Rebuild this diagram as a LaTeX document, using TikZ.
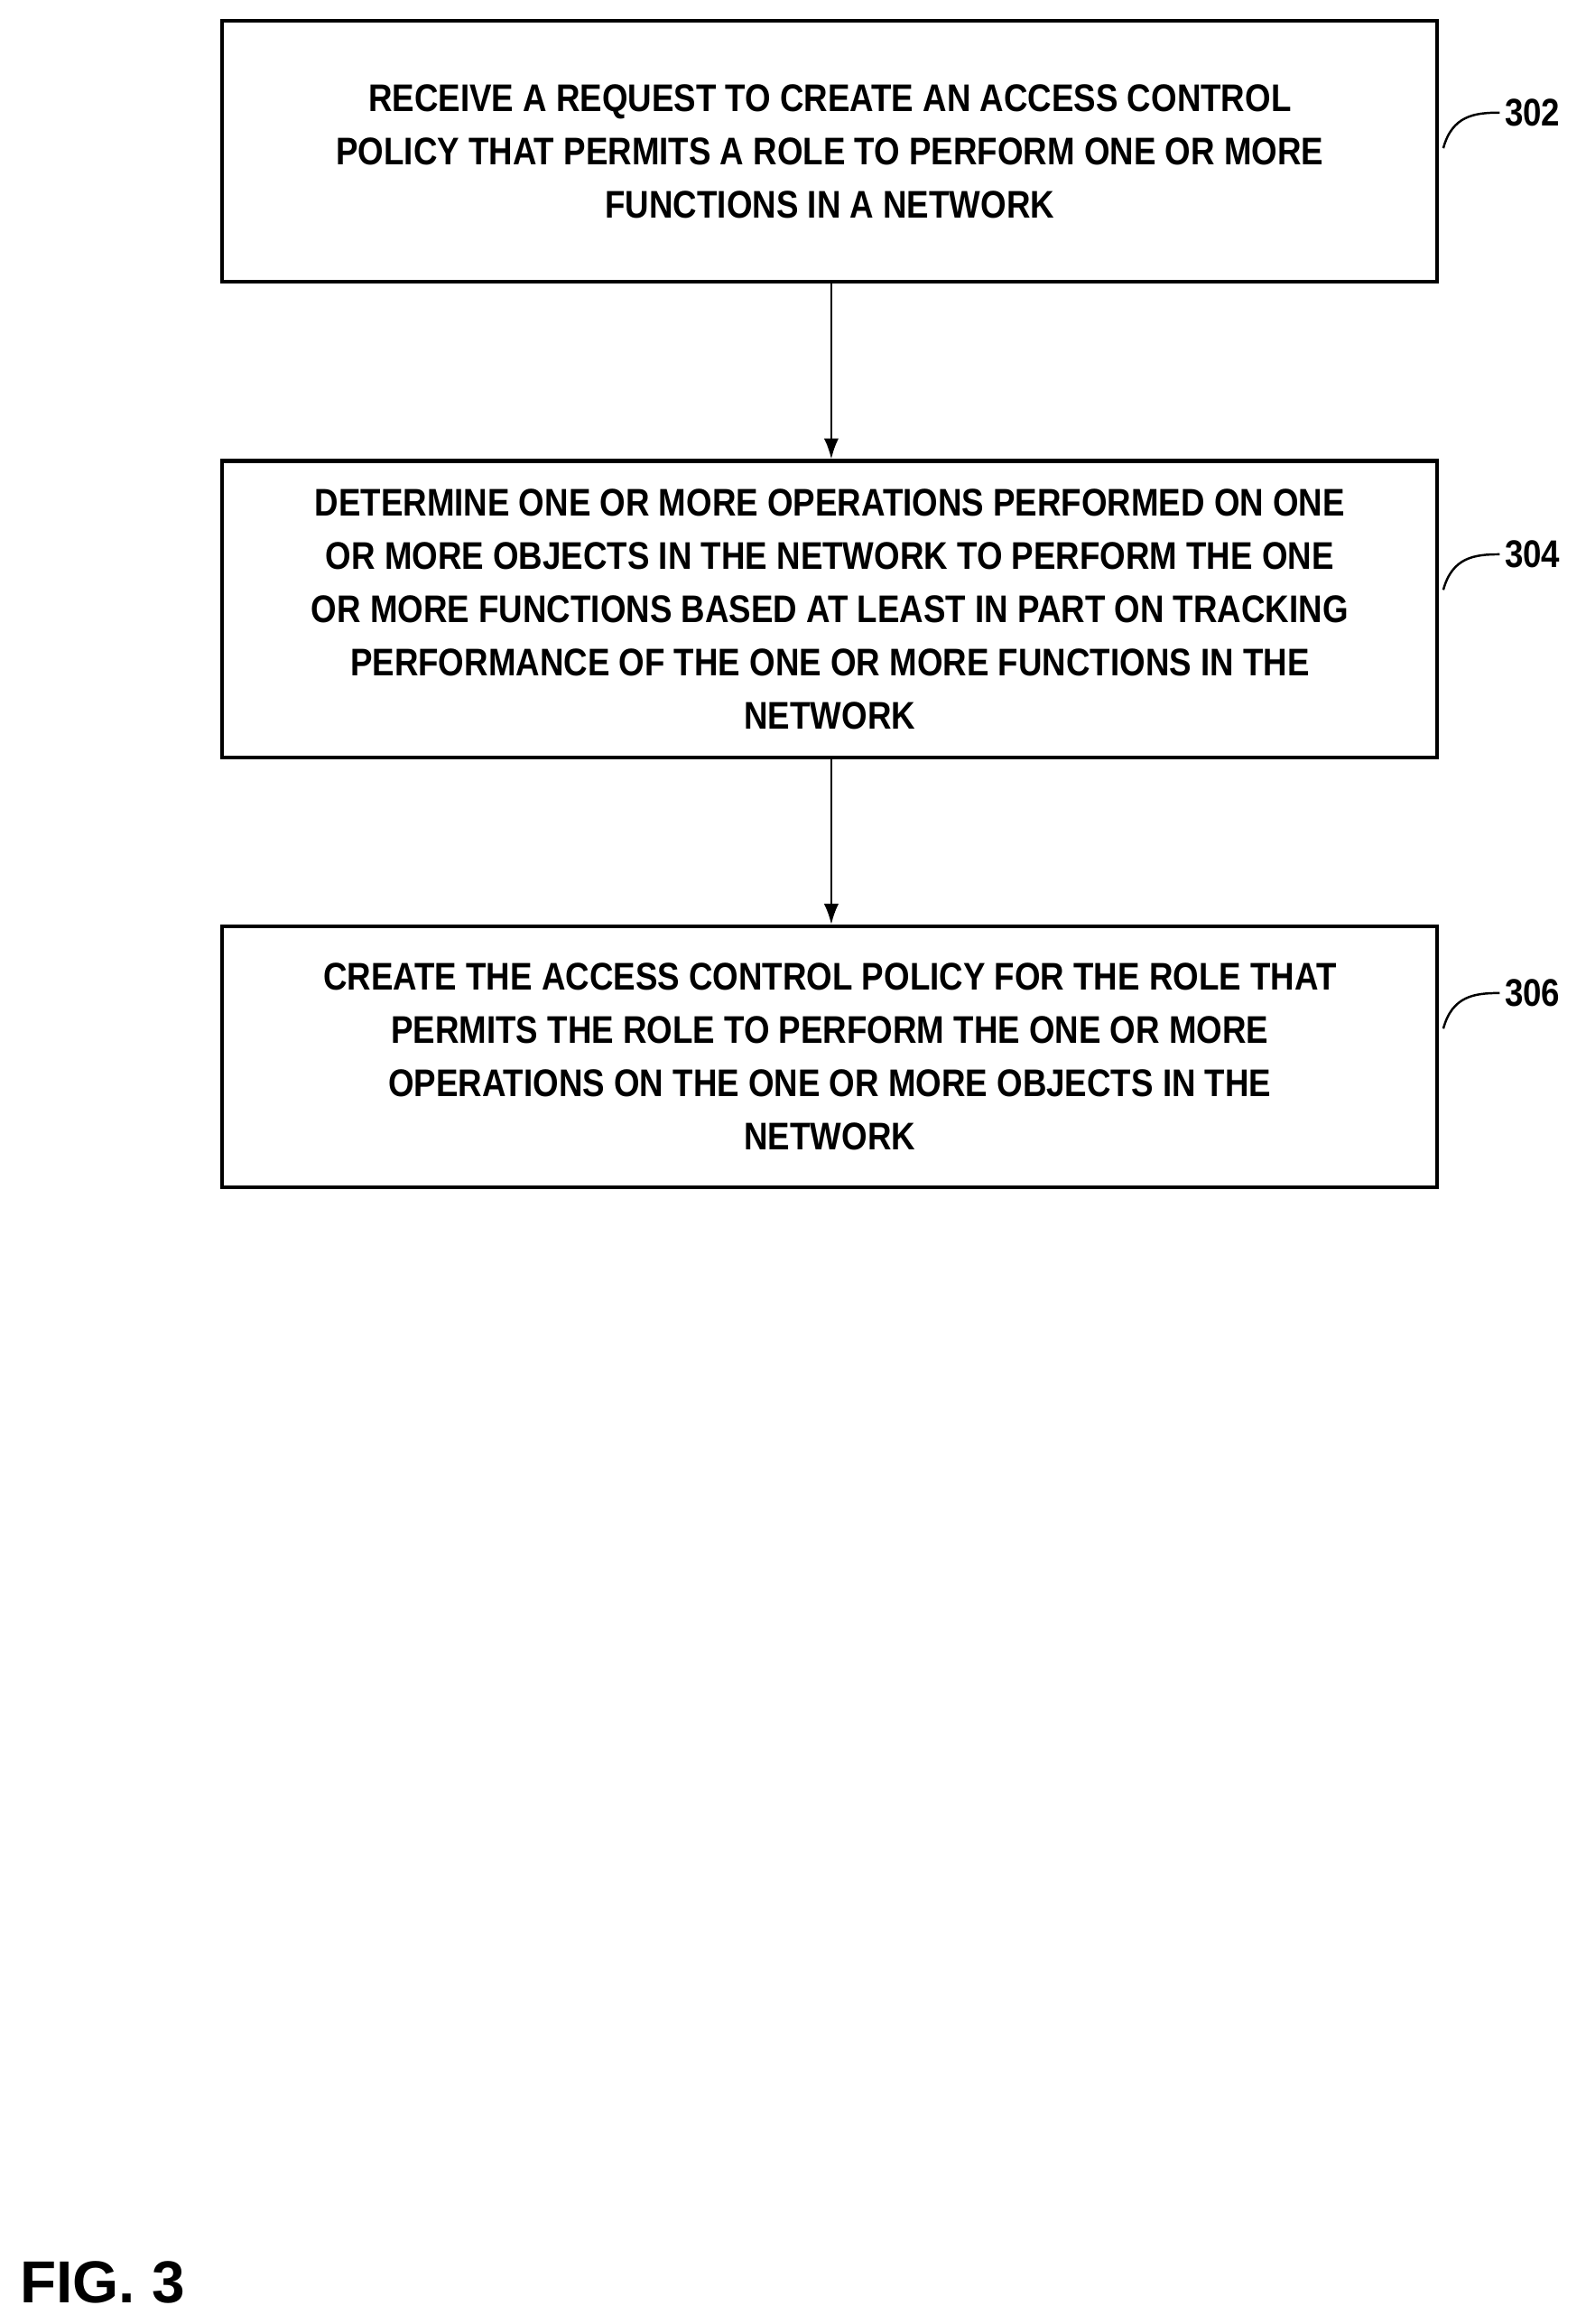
\documentclass[tikz,border=0pt]{standalone}
\usetikzlibrary{arrows.meta}
\usepackage{fontspec}
\setmainfont{Liberation Sans}[FakeStretch=0.86]
\newfontfamily\figfont{Liberation Sans}
\begin{document}
\begin{tikzpicture}[x=1pt,y=-1pt,
  box/.style={draw,line width=2.5pt,minimum width=820pt,align=center,inner sep=0pt,
    font=\fontsize{26}{36}\selectfont\bfseries},
  arr/.style={line width=1.5pt,-{Latex[length=14pt,width=10pt]}},
  lead/.style={line width=1.5pt},
  lab/.style={font=\fontsize{26}{30}\selectfont\bfseries}]
\useasboundingbox (0,0) rectangle (1070,1568);
\node[box,minimum height=176pt] (b1) at (560,102) {RECEIVE A REQUEST TO CREATE AN ACCESS CONTROL\\POLICY THAT PERMITS A ROLE TO PERFORM ONE OR MORE\\FUNCTIONS IN A NETWORK};
\node[box,minimum height=200pt] (b2) at (560,411) {DETERMINE ONE OR MORE OPERATIONS PERFORMED ON ONE\\OR MORE OBJECTS IN THE NETWORK TO PERFORM THE ONE\\OR MORE FUNCTIONS BASED AT LEAST IN PART ON TRACKING\\PERFORMANCE OF THE ONE OR MORE FUNCTIONS IN THE\\NETWORK};
\node[box,minimum height=176pt] (b3) at (560,713) {CREATE THE ACCESS CONTROL POLICY FOR THE ROLE THAT\\PERMITS THE ROLE TO PERFORM THE ONE OR MORE\\OPERATIONS ON THE ONE OR MORE OBJECTS IN THE\\NETWORK};
\draw[arr] (b1.south -| 561,0) -- (b2.north -| 561,0);
\draw[arr] (b2.south -| 561,0) -- (b3.north -| 561,0);
\node[lab,anchor=west] (l1) at (1012,76) {302};
\node[lab,anchor=west] (l2) at (1012,374) {304};
\node[lab,anchor=west] (l3) at (1012,670) {306};
\foreach \l/\y in {l1/76,l2/374,l3/670}
  \draw[lead] (974,\y+24) .. controls (980,\y+2) and (995,\y) .. (\l.west);
\node[font=\figfont\fontsize{40}{44}\selectfont\bfseries,anchor=west] (fig) at (10,1540) {FIG. 3};
\end{tikzpicture}
\end{document}
